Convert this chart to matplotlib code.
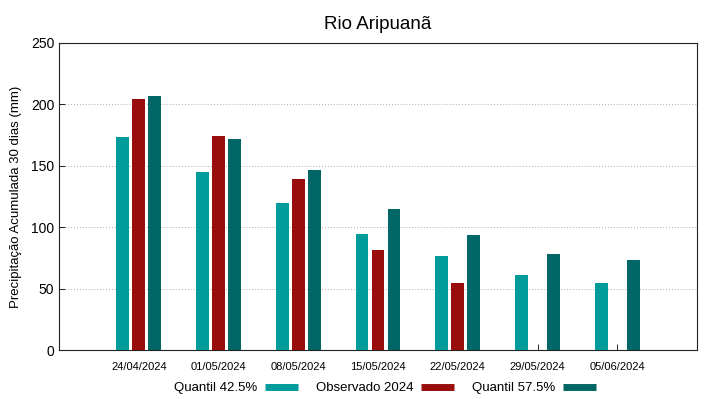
import numpy as np
import matplotlib
matplotlib.use("Agg")
import matplotlib.pyplot as plt
from matplotlib.lines import Line2D

plt.rcParams["font.family"] = ["Liberation Sans", "DejaVu Sans"]

DATES = ["24/04/2024", "01/05/2024", "08/05/2024", "15/05/2024",
         "22/05/2024", "29/05/2024", "05/06/2024"]
Q425 = [173.5, 145, 119.5, 94.5, 76.5, 61, 54.5]
OBS = [204.5, 174.5, 139.5, 81.5, 54.5, np.nan, np.nan]
Q575 = [207, 172, 146.5, 115, 93.5, 78, 73.5]

C_Q425 = "#009b9b"
C_OBS = "#990d0d"
C_Q575 = "#006666"

fig = plt.figure(figsize=(7.19, 3.99), dpi=100)
ax = fig.add_axes([59 / 719, 1 - 350 / 399, 638 / 719, 307 / 399])

x = np.arange(len(DATES))
width = 0.16
ax.bar(x - 0.2, Q425, width=width, color=C_Q425, zorder=3)
ax.bar(x, OBS, width=width, color=C_OBS, zorder=3)
ax.bar(x + 0.2, Q575, width=width, color=C_Q575, zorder=3)

ax.set_xlim(-1, 7)
ax.set_ylim(0, 250)
ax.set_yticks([0, 50, 100, 150, 200, 250])
ax.set_xticks(x)
ax.set_xticklabels(DATES, fontsize=8)
ax.tick_params(axis="y", labelsize=10, direction="in", length=4, width=0.6)
ax.tick_params(axis="x", direction="in", length=4, width=0.6, pad=9)
ax.yaxis.grid(True, linestyle=(0, (1, 2)), color="#aaaaaa", linewidth=0.7, zorder=0)
for s in ax.spines.values():
    s.set_linewidth(0.8)
    s.set_color("#222222")

ax.set_ylabel("Precipitação Acumulada 30 dias (mm)", fontsize=9.5, labelpad=6)
ax.set_title("Rio Aripuanã", fontsize=13.5, pad=10)

handles = [Line2D([], [], color=c, linewidth=5, solid_capstyle="butt")
           for c in (C_Q425, C_OBS, C_Q575)]
labels = ["Quantil 42.5%", "Observado 2024", "Quantil 57.5%"]
fig.legend(handles, labels, loc="center", bbox_to_anchor=(385 / 719, 1 - 388 / 399),
           ncol=3, frameon=False, markerfirst=False, fontsize=9.5,
           handlelength=2.5, columnspacing=1.4, handletextpad=0.55)

fig.savefig("out.png", dpi=100)
